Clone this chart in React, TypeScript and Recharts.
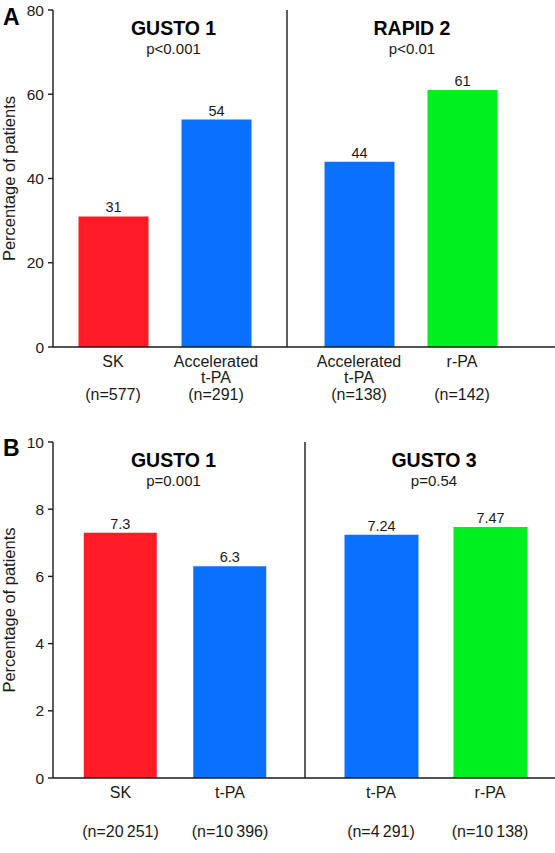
import { BarChart, Bar, XAxis, YAxis, Cell, LabelList } from 'recharts'

const FONT = '"Liberation Sans", Arial, Helvetica, sans-serif'
const RED = '#ff1a26'
const BLUE = '#0a70ff'
const GREEN = '#00ef1f'
const INK = '#1a1a1a'

// panel A - TIMI 3 flow at 90 min
const aTrials = ['GUSTO 1', 'RAPID 2']
const aPValues = ['p<0.001', 'p<0.01']
const aCategories = ['SK', 'Accelerated t-PA', 'Accelerated t-PA', 'r-PA']
const aCounts = ['577', '291', '138', '142']
const aValues = [31, 54, 44, 61]
const aColors = [RED, BLUE, BLUE, GREEN]
const aTicks = [0, 20, 40, 60, 80]

// panel B - 30 day mortality
const bTrials = ['GUSTO 1', 'GUSTO 3']
const bPValues = ['p=0.001', 'p=0.54']
const bCategories = ['SK', 't-PA', 't-PA', 'r-PA']
const bCounts = ['20\u2009251', '10\u2009396', '4\u2009291', '10\u2009138']
const bValues = [7.3, 6.3, 7.24, 7.47]
const bColors = [RED, BLUE, BLUE, GREEN]
const bTicks = [0, 2, 4, 6, 8, 10]

type Row = { name: string; n: string; value: number; color: string }

const rowsOf = (cats: string[], counts: string[], values: number[], colors: string[]): Row[] =>
  cats.map((c, i) => ({ name: c, n: counts[i], value: values[i], color: colors[i] }))

const aRows = rowsOf(aCategories, aCounts, aValues, aColors)
const bRows = rowsOf(bCategories, bCounts, bValues, bColors)

function CatTick(props: any) {
  const { x, y, payload, rows, nDy } = props
  const row: Row = rows[payload.index]
  const lines = row.name.split(' ')
  return (
    <g>
      {lines.map((l, i) => (
        <text key={i} x={x} y={y + 20 + i * 16} textAnchor="middle" fontSize={16} fill={INK}>{l}</text>
      ))}
      <text x={x} y={y + nDy} textAnchor="middle" fontSize={16} fill={INK}>(n={row.n})</text>
    </g>
  )
}

function Half({ rows, ticks, left, top, width, height, xAxisH, first, pad, barSize, nDy }: {
  rows: Row[]; ticks: number[]; left: number; top: number; width: number; height: number; xAxisH: number
  first: boolean; pad: { left: number; right: number }; barSize: number; nDy: number
}) {
  return (
    <div style={{ position: 'absolute', left, top }}>
      <BarChart width={width} height={height} data={rows} margin={{ top: 10, right: 0, bottom: 0, left: 0 }}>
        <XAxis dataKey="name" height={xAxisH} padding={pad} interval={0} tickLine={false} tickSize={0} tickMargin={0}
          axisLine={{ stroke: INK, strokeWidth: 1.4 }} tick={<CatTick rows={rows} nDy={nDy} />} />
        <YAxis width={first ? 53 : 1} domain={[ticks[0], ticks[ticks.length - 1]]} ticks={ticks} interval={0}
          tick={first ? { fontSize: 15.5, fill: INK } : false} tickLine={first ? { stroke: INK, strokeWidth: 1.4 } : false}
          tickSize={5} tickMargin={4} axisLine={{ stroke: INK, strokeWidth: 1.4 }} allowDataOverflow />
        <Bar dataKey="value" barSize={barSize} isAnimationActive={false}>
          {rows.map((r, i) => <Cell key={i} fill={r.color} />)}
          <LabelList dataKey="value" position="top" offset={4} fontSize={14.5} fill={INK} />
        </Bar>
      </BarChart>
    </div>
  )
}

export default function App() {
  return (
    <div style={{ position: 'absolute', left: 0, top: 0, width: 555, height: 853, background: '#fff', fontFamily: FONT }}>
      <Half rows={aRows.slice(0, 2)} ticks={aTicks} left={0} top={0} width={287} height={410} xAxisH={63}
        first pad={{ left: 8.5, right: 19.5 }} barSize={70} nDy={53} />
      <Half rows={aRows.slice(2)} ticks={aTicks} left={286} top={0} width={269} height={410} xAxisH={63}
        first={false} pad={{ left: 20.5, right: 41.5 }} barSize={70} nDy={53} />
      <Half rows={bRows.slice(0, 2)} ticks={bTicks} left={0} top={432} width={305} height={420} xAxisH={74}
        first pad={{ left: 12.75, right: 20.25 }} barSize={73} nDy={59} />
      <Half rows={bRows.slice(2)} ticks={bTicks} left={304} top={432} width={251} height={420} xAxisH={74}
        first={false} pad={{ left: 21.5, right: 10.5 }} barSize={74} nDy={59} />
      <svg width={555} height={853} style={{ position: 'absolute', left: 0, top: 0, pointerEvents: 'none' }}>
        <text x={3} y={25} fontSize={23} fontWeight="bold" fill="#000">A</text>
        <text x={3} y={456} fontSize={23} fontWeight="bold" fill="#000">B</text>
        <text transform="translate(15 178.5) rotate(-90)" textAnchor="middle" fontSize={16.5} fill={INK}>Percentage of patients</text>
        <text transform="translate(15 610) rotate(-90)" textAnchor="middle" fontSize={16.5} fill={INK}>Percentage of patients</text>
        <text x={173.5} y={35} textAnchor="middle" fontSize={19.5} fontWeight="bold" fill="#000">{aTrials[0]}</text>
        <text x={173.5} y={54} textAnchor="middle" fontSize={15} fill={INK}>{aPValues[0]}</text>
        <text x={412} y={35} textAnchor="middle" fontSize={19.5} fontWeight="bold" fill="#000">{aTrials[1]}</text>
        <text x={412} y={54} textAnchor="middle" fontSize={15} fill={INK}>{aPValues[1]}</text>
        <text x={173.5} y={467} textAnchor="middle" fontSize={19.5} fontWeight="bold" fill="#000">{bTrials[0]}</text>
        <text x={173.5} y={486} textAnchor="middle" fontSize={15} fill={INK}>{bPValues[0]}</text>
        <text x={434} y={467} textAnchor="middle" fontSize={19.5} fontWeight="bold" fill="#000">{bTrials[1]}</text>
        <text x={434} y={486} textAnchor="middle" fontSize={15} fill={INK}>{bPValues[1]}</text>
      </svg>
    </div>
  )
}
